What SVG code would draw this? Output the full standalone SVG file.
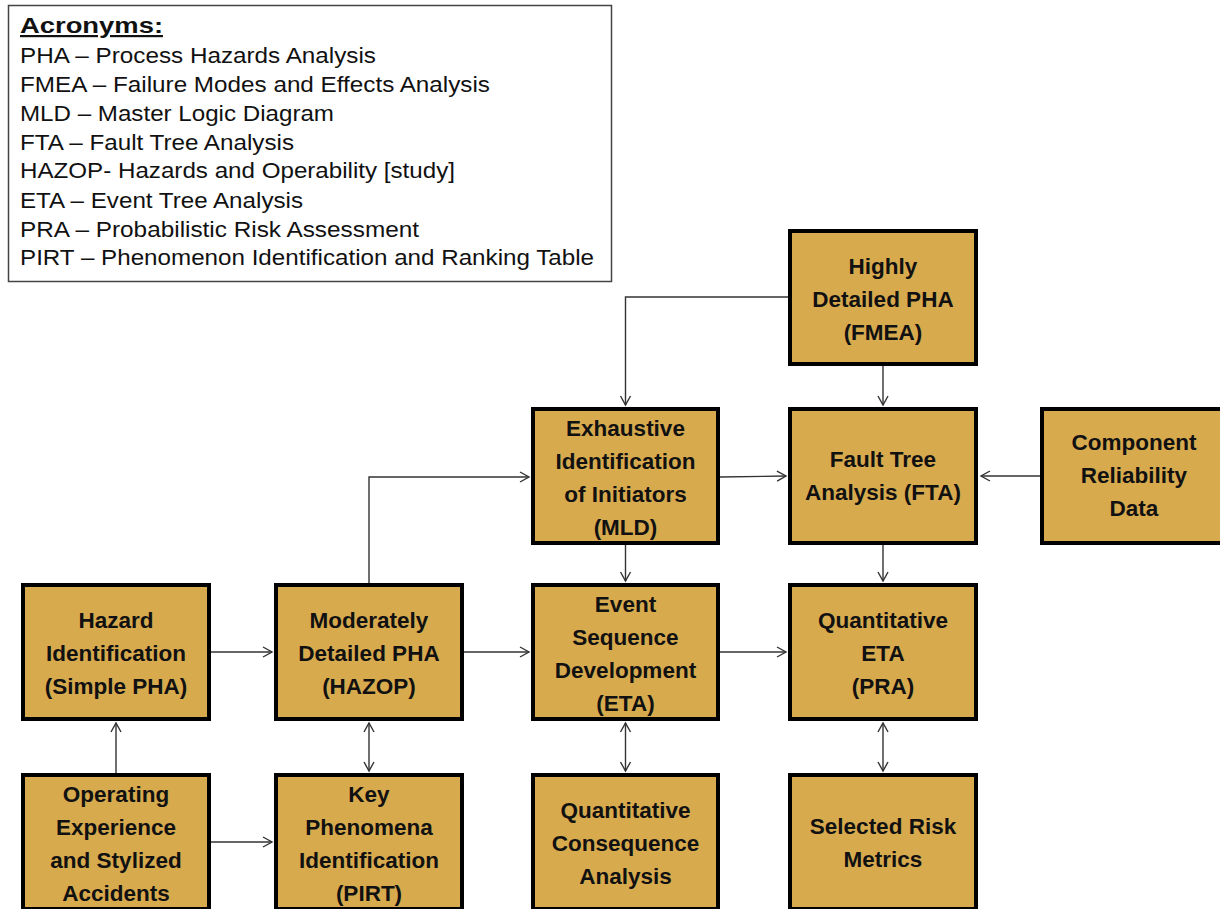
<svg xmlns="http://www.w3.org/2000/svg" width="1220" height="909" viewBox="0 0 1220 909">
<style>
.box{fill:#D8AA4E;stroke:#000;stroke-width:4}
.lbl{font-family:"Liberation Sans",Arial,sans-serif;font-weight:bold;font-size:22.5px;fill:#111;text-anchor:middle}
.acr{font-family:"Liberation Sans",Arial,sans-serif;font-size:22px;fill:#111}
.con path{fill:none;stroke:#333;stroke-width:1.4}
</style>
<defs>
<marker id="ah" markerUnits="userSpaceOnUse" markerWidth="12" markerHeight="14" refX="10" refY="6" orient="auto-start-reverse" viewBox="0 0 12 12">
<path d="M1,1 L10,6 L1,11" fill="none" stroke="#333" stroke-width="1.4"/>
</marker>
</defs>
<rect width="1220" height="909" fill="#fff"/>
<g id="acronyms">
<rect x="8.5" y="5.5" width="603" height="276" fill="#fff" stroke="#444" stroke-width="1.5"/>
<text class="acr" x="20" y="33" font-weight="bold" text-decoration="underline" textLength="143" lengthAdjust="spacingAndGlyphs">Acronyms:</text>
<text class="acr" x="20" y="63" textLength="356" lengthAdjust="spacingAndGlyphs">PHA – Process Hazards Analysis</text>
<text class="acr" x="20" y="92" textLength="470" lengthAdjust="spacingAndGlyphs">FMEA – Failure Modes and Effects Analysis</text>
<text class="acr" x="20" y="121" textLength="314" lengthAdjust="spacingAndGlyphs">MLD – Master Logic Diagram</text>
<text class="acr" x="20" y="150" textLength="274" lengthAdjust="spacingAndGlyphs">FTA – Fault Tree Analysis</text>
<text class="acr" x="20" y="178" textLength="435" lengthAdjust="spacingAndGlyphs">HAZOP- Hazards and Operability [study]</text>
<text class="acr" x="20" y="208" textLength="283" lengthAdjust="spacingAndGlyphs">ETA – Event Tree Analysis</text>
<text class="acr" x="20" y="237" textLength="399" lengthAdjust="spacingAndGlyphs">PRA – Probabilistic Risk Assessment</text>
<text class="acr" x="20" y="265" textLength="574" lengthAdjust="spacingAndGlyphs">PIRT – Phenomenon Identification and Ranking Table</text>
</g>
<g class="con" id="connectors">
<path d="M211,652 H272" marker-end="url(#ah)"/>
<path d="M116,773 V723" marker-end="url(#ah)"/>
<path d="M211,842 H272" marker-end="url(#ah)"/>
<path d="M369,723 V771" marker-start="url(#ah)" marker-end="url(#ah)"/>
<path d="M464,652 H529" marker-end="url(#ah)"/>
<path d="M369,583 V477 H529" marker-end="url(#ah)"/>
<path d="M625.5,545 V581" marker-end="url(#ah)"/>
<path d="M625.5,723 V771" marker-start="url(#ah)" marker-end="url(#ah)"/>
<path d="M720,652 H786" marker-end="url(#ah)"/>
<path d="M883,545 V581" marker-end="url(#ah)"/>
<path d="M883,723 V771" marker-start="url(#ah)" marker-end="url(#ah)"/>
<path d="M883,366 V405" marker-end="url(#ah)"/>
<path d="M788,297 H625.5 V405" marker-end="url(#ah)"/>
<path d="M720,477 L786,476" marker-end="url(#ah)"/>
<path d="M1040,476 H981" marker-end="url(#ah)"/>
</g>
<g id="highly">
<rect class="box" x="790" y="231" width="186" height="133"/>
<text class="lbl" x="883" y="274">Highly</text>
<text class="lbl" x="883" y="307">Detailed PHA</text>
<text class="lbl" x="883" y="340">(FMEA)</text>
</g>
<g id="exhaustive">
<rect class="box" x="533" y="409" width="185" height="134"/>
<text class="lbl" x="625.5" y="436">Exhaustive</text>
<text class="lbl" x="625.5" y="469">Identification</text>
<text class="lbl" x="625.5" y="502">of Initiators</text>
<text class="lbl" x="625.5" y="535">(MLD)</text>
</g>
<g id="fta">
<rect class="box" x="790" y="409" width="186" height="134"/>
<text class="lbl" x="883" y="467">Fault Tree</text>
<text class="lbl" x="883" y="500">Analysis (FTA)</text>
</g>
<g id="component">
<rect class="box" x="1042" y="409" width="200" height="134"/>
<text class="lbl" x="1134" y="450">Component</text>
<text class="lbl" x="1134" y="483">Reliability</text>
<text class="lbl" x="1134" y="516">Data</text>
</g>
<g id="hazard">
<rect class="box" x="23" y="585" width="186" height="134"/>
<text class="lbl" x="116" y="628">Hazard</text>
<text class="lbl" x="116" y="661">Identification</text>
<text class="lbl" x="116" y="694">(Simple PHA)</text>
</g>
<g id="moderately">
<rect class="box" x="276" y="585" width="186" height="134"/>
<text class="lbl" x="369" y="628">Moderately</text>
<text class="lbl" x="369" y="661">Detailed PHA</text>
<text class="lbl" x="369" y="694">(HAZOP)</text>
</g>
<g id="event">
<rect class="box" x="533" y="585" width="185" height="134"/>
<text class="lbl" x="625.5" y="612">Event</text>
<text class="lbl" x="625.5" y="645">Sequence</text>
<text class="lbl" x="625.5" y="678">Development</text>
<text class="lbl" x="625.5" y="711">(ETA)</text>
</g>
<g id="quanteta">
<rect class="box" x="790" y="585" width="186" height="134"/>
<text class="lbl" x="883" y="628">Quantitative</text>
<text class="lbl" x="883" y="661">ETA</text>
<text class="lbl" x="883" y="694">(PRA)</text>
</g>
<g id="operating">
<rect class="box" x="23" y="775" width="186" height="134"/>
<text class="lbl" x="116" y="802">Operating</text>
<text class="lbl" x="116" y="835">Experience</text>
<text class="lbl" x="116" y="868">and Stylized</text>
<text class="lbl" x="116" y="901">Accidents</text>
</g>
<g id="key">
<rect class="box" x="276" y="775" width="186" height="134"/>
<text class="lbl" x="369" y="802">Key</text>
<text class="lbl" x="369" y="835">Phenomena</text>
<text class="lbl" x="369" y="868">Identification</text>
<text class="lbl" x="369" y="901">(PIRT)</text>
</g>
<g id="quantcons">
<rect class="box" x="533" y="775" width="185" height="134"/>
<text class="lbl" x="625.5" y="818">Quantitative</text>
<text class="lbl" x="625.5" y="851">Consequence</text>
<text class="lbl" x="625.5" y="884">Analysis</text>
</g>
<g id="selected">
<rect class="box" x="790" y="775" width="186" height="134"/>
<text class="lbl" x="883" y="834">Selected Risk</text>
<text class="lbl" x="883" y="867">Metrics</text>
</g>
</svg>
